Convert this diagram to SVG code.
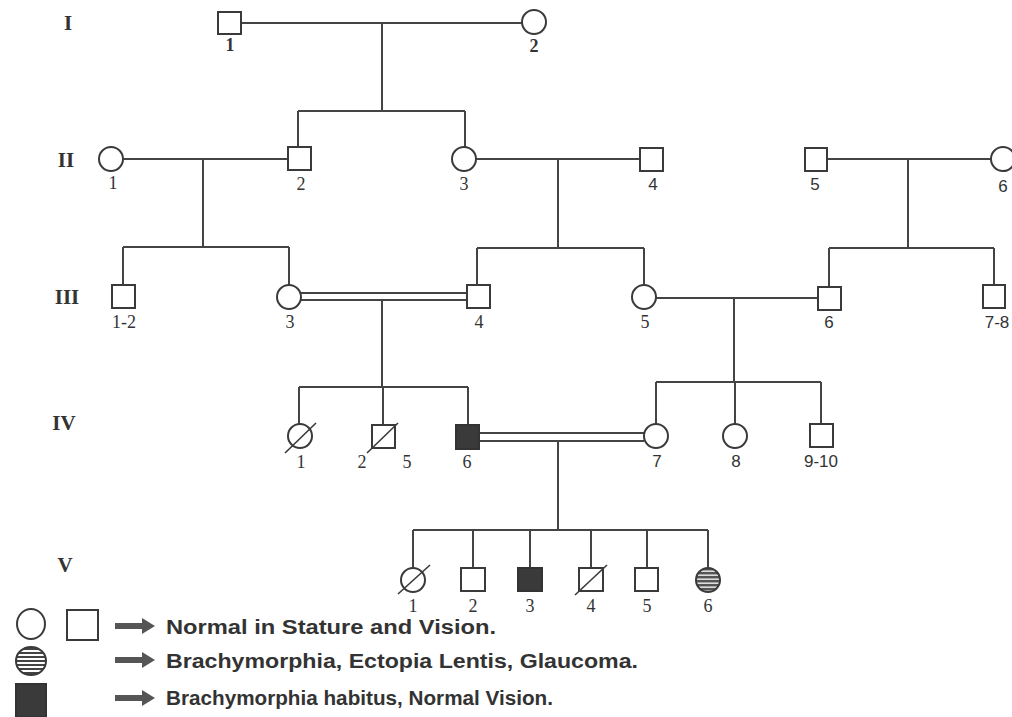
<svg xmlns="http://www.w3.org/2000/svg" width="1012" height="717" viewBox="0 0 1012 717">
<defs>
<style>
.n{fill:#fff;stroke:#3a3a3a;stroke-width:2}
.f{fill:#3a3a3a;stroke:#333;stroke-width:2}
.s{fill:url(#stripe);stroke:#3a3a3a;stroke-width:2}
.c{fill:none;stroke:#444;stroke-width:2}
.d{fill:none;stroke:#3a3a3a;stroke-width:1.6}
.g{font-family:"Liberation Serif",serif;font-weight:bold;font-size:21px;fill:#333;text-anchor:middle}
.l{font-family:"Liberation Serif",serif;font-size:18px;fill:#333;text-anchor:middle}
.k{font-family:"Liberation Sans",sans-serif;font-size:17px;fill:#333;text-anchor:middle}
.t{font-family:"Liberation Sans Narrow","Liberation Sans",sans-serif;font-weight:bold;font-size:20px;fill:#333}
.a{fill:#555;stroke:none}
</style>
<pattern id="stripe" patternUnits="userSpaceOnUse" width="6" height="4">
<rect width="6" height="4" fill="#fff"/>
<rect width="6" height="2" fill="#444"/>
</pattern>
<pattern id="stripe2" patternUnits="userSpaceOnUse" width="6" height="4">
<rect width="6" height="4" fill="#ddd"/>
<rect width="6" height="2.4" fill="#555"/>
</pattern>
</defs>
<rect width="1012" height="717" fill="#fff"/>

<g id="generations">
<text class="g" x="68" y="30">I</text>
<text class="g" x="66" y="167">II</text>
<text class="g" x="67" y="304">III</text>
<text class="g" x="64" y="430">IV</text>
<text class="g" x="65" y="572">V</text>
</g>

<g id="connectors">
<path class="c" d="M241 23H522M382 23V111M298 111H465M298 111V147M465 111V147"/>
<path class="c" d="M123 159H288M203 159V247M123 247H289M123 247V285M289 247V285"/>
<path class="c" d="M476 159H640M558 159V248M477 248H644M477 248V285M644 248V285"/>
<path class="c" d="M827 159H991M908 159V248M829 248H994M829 248V287M994 248V285"/>
<path class="c" d="M301 293H467M301 300H467M382 300V387M299 387H468M299 387V424M383 387V425M468 387V425"/>
<path class="c" d="M656 298H818M734 298V382M656 382H821M656 382V424M735 382V424M821 382V424"/>
<path class="c" d="M479 433H644M479 441H644M558 441V530M413 530H708M413 530V568M473 530V568M530 530V568M591 530V568M647 530V568M708 530V568"/>
</g>

<g id="I-1"><rect class="n" x="218" y="12" width="23" height="22"/><text class="l" x="230" y="51" font-weight="bold">1</text></g>
<g id="I-2"><circle class="n" cx="534" cy="22" r="12"/><text class="l" x="534" y="52" font-weight="bold">2</text></g>

<g id="II-1"><circle class="n" cx="111" cy="159" r="12"/><text class="l" x="113" y="189">1</text></g>
<g id="II-2"><rect class="n" x="288" y="147" width="23" height="23"/><text class="l" x="301" y="190">2</text></g>
<g id="II-3"><circle class="n" cx="464" cy="159" r="12"/><text class="l" x="464" y="190">3</text></g>
<g id="II-4"><rect class="n" x="640" y="148" width="23" height="23"/><text class="k" x="653" y="190">4</text></g>
<g id="II-5"><rect class="n" x="805" y="148" width="22" height="23"/><text class="k" x="815" y="190">5</text></g>
<g id="II-6"><circle class="n" cx="1003" cy="159" r="12"/><text class="k" x="1003" y="192">6</text></g>

<g id="III-1-2"><rect class="n" x="112" y="285" width="23" height="23"/><text class="l" x="124" y="328">1-2</text></g>
<g id="III-3"><circle class="n" cx="289" cy="297" r="12"/><text class="l" x="290" y="328">3</text></g>
<g id="III-4"><rect class="n" x="467" y="285" width="23" height="23"/><text class="l" x="479" y="328">4</text></g>
<g id="III-5"><circle class="n" cx="644" cy="297" r="12"/><text class="l" x="645" y="328">5</text></g>
<g id="III-6"><rect class="n" x="818" y="287" width="23" height="23"/><text class="k" x="829" y="328">6</text></g>
<g id="III-7-8"><rect class="n" x="983" y="285" width="22" height="23"/><text class="k" x="997" y="328">7-8</text></g>

<g id="IV-1"><circle class="n" cx="300" cy="436" r="12"/><line class="d" x1="285" y1="453" x2="316" y2="423"/><text class="l" x="301" y="468">1</text></g>
<g id="IV-2-5"><rect class="n" x="372" y="425" width="23" height="23"/><line class="d" x1="367" y1="453" x2="398" y2="423"/><text class="l" x="362" y="468">2</text><text class="l" x="407" y="468">5</text></g>
<g id="IV-6"><rect class="f" x="456" y="425" width="23" height="24"/><text class="l" x="467" y="468">6</text></g>
<g id="IV-7"><circle class="n" cx="656" cy="436" r="12"/><text class="k" x="657" y="467">7</text></g>
<g id="IV-8"><circle class="n" cx="735" cy="436" r="12"/><text class="k" x="736" y="467">8</text></g>
<g id="IV-9-10"><rect class="n" x="810" y="424" width="23" height="23"/><text class="k" x="821" y="467">9-10</text></g>

<g id="V-1"><circle class="n" cx="413" cy="580" r="12"/><line class="d" x1="398" y1="594" x2="430" y2="565"/><text class="l" x="413" y="612">1</text></g>
<g id="V-2"><rect class="n" x="461" y="568" width="24" height="23"/><text class="l" x="473" y="612">2</text></g>
<g id="V-3"><rect class="f" x="518" y="568" width="24" height="23"/><text class="l" x="530" y="612">3</text></g>
<g id="V-4"><rect class="n" x="579" y="568" width="24" height="23"/><line class="d" x1="575" y1="595" x2="607" y2="565"/><text class="l" x="591" y="612">4</text></g>
<g id="V-5"><rect class="n" x="635" y="568" width="23" height="23"/><text class="l" x="647" y="612">5</text></g>
<g id="V-6"><circle cx="708" cy="580" r="12" fill="url(#stripe2)" stroke="#3a3a3a" stroke-width="2"/><text class="l" x="708" y="612">6</text></g>

<g id="legend">
<ellipse class="n" cx="31" cy="624" rx="14" ry="15"/>
<rect class="n" x="67" y="610" width="31" height="30"/>
<path class="a" d="M115 623H142V618L155 626L142 634V629H115Z"/>
<text class="t" x="166" y="634" textLength="330" lengthAdjust="spacingAndGlyphs">Normal in Stature and Vision.</text>
<ellipse class="s" cx="31" cy="661" rx="15" ry="14"/>
<path class="a" d="M115 657H142V652L155 660L142 668V663H115Z"/>
<text class="t" x="166" y="668" textLength="472" lengthAdjust="spacingAndGlyphs">Brachymorphia, Ectopia Lentis, Glaucoma.</text>
<rect class="f" x="16" y="684" width="30" height="33"/>
<path class="a" d="M115 695H142V690L155 698L142 706V701H115Z"/>
<text class="t" x="166" y="705" textLength="387" lengthAdjust="spacingAndGlyphs">Brachymorphia habitus, Normal Vision.</text>
</g>
</svg>
